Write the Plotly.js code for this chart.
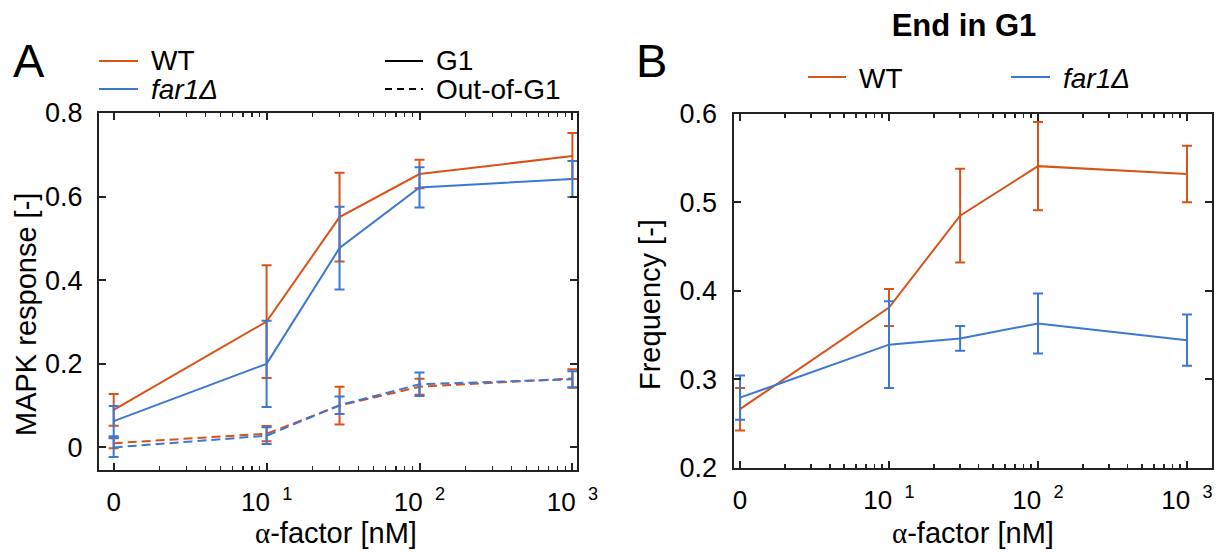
<!DOCTYPE html>
<html>
<head>
<meta charset="utf-8">
<script src="https://cdn.plot.ly/plotly-3.0.1.min.js"></script>
<style>html,body{margin:0;padding:0;background:#fff;}#chart{width:1223px;height:555px;}</style>
</head>
<body>
<div id="chart"></div>
<script>
// ---- data ----
const concentrations = [0, 10, 30, 100, 1000];           // alpha-factor [nM]
const xTickVals = [1, 10, 100, 1000];
const xTickText = ["0", "10\u00a0<sup>\u00a01</sup>", "10\u00a0<sup>\u00a02</sup>", "10\u00a0<sup>\u00a03</sup>"];
const xMinorVals = [2,3,4,5,6,7,8,9,20,30,40,50,60,70,80,90,200,300,400,500,600,700,800,900];

// Panel A: MAPK response
const wtG1 = [0.090, 0.301, 0.551, 0.654, 0.697];
const wtG1Err = [0.038, 0.135, 0.106, 0.034, 0.055];
const far1G1 = [0.063, 0.200, 0.477, 0.622, 0.642];
const far1G1Err = [0.036, 0.103, 0.099, 0.048, 0.043];
const wtOut = [0.010, 0.033, 0.100, 0.145, 0.165];
const wtOutErr = [0.012, 0.018, 0.045, 0.019, 0.022];
const far1Out = [0.000, 0.028, 0.101, 0.151, 0.163];
const far1OutErr = [0.023, 0.020, 0.021, 0.028, 0.019];
const yTickValsA = [0, 0.2, 0.4, 0.6, 0.8];
const yTickTextA = ["0", "0.2", "0.4", "0.6", "0.8"];

// Panel B: End in G1 frequency
const wtEnd = [0.266, 0.381, 0.485, 0.541, 0.532];
const wtEndErr = [0.024, 0.021, 0.053, 0.050, 0.032];
const far1End = [0.279, 0.339, 0.346, 0.363, 0.344];
const far1EndErr = [0.025, 0.049, 0.014, 0.034, 0.029];
const yTickValsB = [0.2, 0.3, 0.4, 0.5, 0.6];
const yTickTextB = ["0.2", "0.3", "0.4", "0.5", "0.6"];

// ---- styling ----
const W = 1223, H = 555;
const ORANGE = "#D95319", BLUE = "#3B78D2", AX = "#222222";
const FONT = "Liberation Sans, Arial, Helvetica, sans-serif";
const px = v => v / W, py = v => 1 - v / H;

// dose 0 is drawn at the first decade position of the log axis
const xPlot = concentrations.map(c => c === 0 ? 1 : c);

function tr(y, err, color, dash, xa, ya) {
  return {
    x: xPlot, y: y, type: "scatter", mode: "lines",
    xaxis: xa, yaxis: ya, showlegend: false, hoverinfo: "x+y",
    line: {color: color, width: 2, dash: dash},
    error_y: {type: "data", array: err, visible: true, color: color, thickness: 2, width: 5}
  };
}

const DASH = "9px,5px";
const data = [
  tr(wtOut, wtOutErr, ORANGE, DASH, "x", "y"),
  tr(far1Out, far1OutErr, BLUE, DASH, "x", "y"),
  tr(wtG1, wtG1Err, ORANGE, "solid", "x", "y"),
  tr(far1G1, far1G1Err, BLUE, "solid", "x", "y"),
  tr(wtEnd, wtEndErr, ORANGE, "solid", "x2", "y2"),
  tr(far1End, far1EndErr, BLUE, "solid", "x2", "y2")
];

function xAxis(domain, range, anchor) {
  return {
    type: "log", domain: domain, range: range, anchor: anchor,
    tickmode: "array", tickvals: xTickVals, ticktext: xTickText,
    ticks: "inside", ticklen: 7, tickwidth: 2, tickcolor: AX,
    showline: true, linecolor: AX, linewidth: 2, mirror: "allticks",
    showgrid: false, zeroline: false, ticklabelstandoff: 8,
    tickfont: {size: 26, family: FONT, color: "#000"},
    minor: {tickvals: xMinorVals, ticks: "inside", ticklen: 4, tickwidth: 1.5, tickcolor: AX, showgrid: false}
  };
}
function yAxis(domain, range, tv, tt, anchor, standoff) {
  return {
    domain: domain, range: range, anchor: anchor,
    tickmode: "array", tickvals: tv, ticktext: tt,
    ticks: "inside", ticklen: 7, tickwidth: 2, tickcolor: AX,
    showline: true, linecolor: AX, linewidth: 2, mirror: "allticks",
    showgrid: false, zeroline: false, ticklabelstandoff: standoff,
    tickfont: {size: 27, family: FONT, color: "#000"}
  };
}

const ann = (text, x, y, size, opts) => Object.assign({
  text: text, x: px(x), y: py(y), xref: "paper", yref: "paper",
  showarrow: false, xanchor: "left", yanchor: "middle",
  font: {size: size, family: FONT, color: "#000"}
}, opts || {});
const seg = (x0, x1, y, color, dash) => ({
  type: "line", xref: "paper", yref: "paper",
  x0: px(x0), x1: px(x1), y0: py(y), y1: py(y),
  line: {color: color, width: 2, dash: dash || "solid"}
});

const alpha = '<span style="font-family:Liberation Serif">α</span>-factor [nM]';

const layout = {
  width: W, height: H,
  margin: {l: 0, r: 0, t: 0, b: 0},
  paper_bgcolor: "#fff", plot_bgcolor: "#fff",
  font: {family: FONT, size: 26, color: "#000"},
  showlegend: false,
  title: {text: "<b>End in G1</b>", x: px(964), y: py(25), xref: "paper", yref: "paper",
          xanchor: "center", yanchor: "middle", font: {size: 31, family: FONT, color: "#000"}},
  xaxis: xAxis([px(99), px(577)], [-0.096, 3.03], "y"),
  yaxis: yAxis([1 - 470 / H, 1 - 113 / H], [-0.054, 0.8], yTickValsA, yTickTextA, "x", 9),
  xaxis2: xAxis([px(733.5), px(1212)], [-0.044, 3.168], "y2"),
  yaxis2: yAxis([1 - 467.5 / H, 1 - 114 / H], [0.2, 0.6], yTickValsB, yTickTextB, "x2", 9),
  annotations: [
    ann("A", 11, 61, 47),
    ann("B", 634, 61, 47),
    ann("WT", 149, 61, 28),
    ann("<i>far1Δ</i>", 149, 89, 28),
    ann("G1", 434, 61, 28),
    ann("Out-of-G1", 434, 89, 28),
    ann("WT", 857, 78, 28),
    ann("<i>far1Δ</i>", 1061, 78, 28),
    ann("MAPK response [-]", 26, 315, 29, {xanchor: "center", textangle: -90}),
    ann("Frequency [-]", 650, 305, 29, {xanchor: "center", textangle: -90}),
    ann(alpha, 336, 533, 29, {xanchor: "center"}),
    ann(alpha, 973, 533, 29, {xanchor: "center"})
  ],
  shapes: [
    seg(99, 138, 61, ORANGE),
    seg(99, 138, 89, BLUE),
    seg(385, 423, 61, "#000"),
    seg(385, 423, 89, "#000", "7px,5px"),
    seg(808, 846, 77, ORANGE),
    seg(1011, 1050, 77, BLUE)
  ]
};

Plotly.newPlot("chart", data, layout, {staticPlot: true, displayModeBar: false});
</script>
</body>
</html>
